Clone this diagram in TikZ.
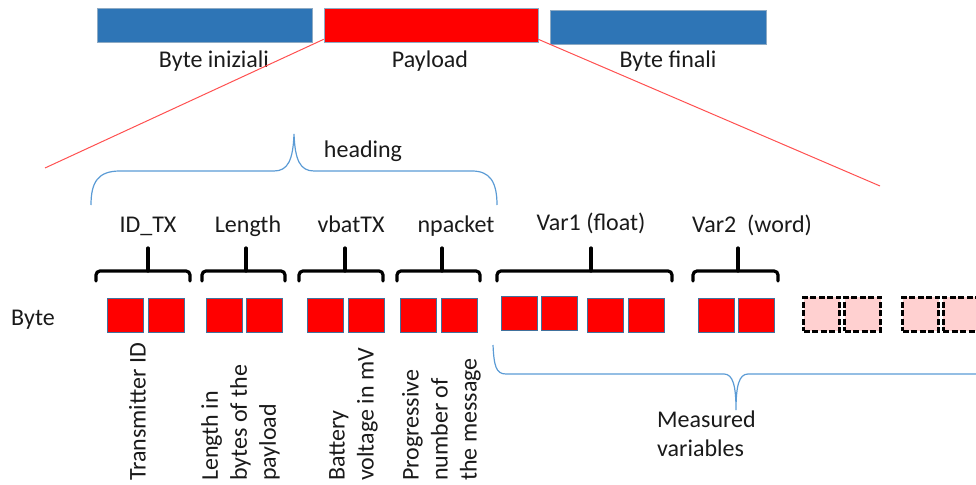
\documentclass[tikz,border=0pt]{standalone}
\usepackage{fontspec}
\setmainfont{Carlito}
\definecolor{barblue}{HTML}{2E75B6}
\definecolor{sqedge}{HTML}{41719C}
\definecolor{pinkfill}{HTML}{FFD0D0}
\definecolor{braceblue}{HTML}{5B9BD5}
\definecolor{zoomred}{HTML}{FF5050}
\definecolor{txt}{HTML}{1A1A1A}
\begin{document}
\begin{tikzpicture}[x=1pt,y=-1pt,
  every node/.style={font=\fontsize{24}{29}\selectfont, text=txt},
  bar/.style={rectangle, inner sep=0, minimum width=214, minimum height=34, draw=sqedge!60, line width=0.6},
  lbl/.style={anchor=base, inner sep=0},
  sq/.style={rectangle, inner sep=0, minimum width=36, minimum height=34, fill=red, draw=sqedge, line width=0.8},
  dsq/.style={rectangle, inner sep=0, minimum width=36, minimum height=34, fill=pinkfill, draw=black, line width=3, dash pattern=on 6pt off 2.5pt},
  rlbl/.style={rotate=90, anchor=north west, inner sep=0, align=left},
  zoomline/.style={draw=zoomred, line width=1},
  bluebrace/.style={draw=braceblue, line width=1.2},
  blackbrace/.style={draw=black, line width=3.2, rounded corners=4, line cap=round}]
\useasboundingbox (0,0) rectangle (976,484);

% top bars
\node[bar, fill=barblue, minimum width=215] (b1) at (204.5,25) {};
\node[bar, fill=red] (pl) at (431,25) {};
\node[bar, fill=barblue, minimum width=216] (b2) at (658,27) {};
\node[lbl] (t1) at (214,68) {Byte iniziali};
\node[lbl] (t2) at (430,68) {Payload};
\node[lbl] (t3) at (668,68) {Byte finali};

% zoom lines
\coordinate (zl) at (45,168);
\coordinate (zr) at (880,186);
\draw[zoomline] ([yshift=3]pl.south west) -- (zl);
\draw[zoomline] ([yshift=3]pl.south east) -- (zr);

% heading brace
\draw[bluebrace] (91,205) .. controls (91,182) and (98,171) .. (120,171) -- (274,171)
  .. controls (288,171) and (293,160) .. (294,134)
  .. controls (295,160) and (300,171) .. (314,171) -- (472,171)
  .. controls (490,171) and (497,182) .. (497,205);
\node[lbl] (hd) at (363,157) {heading};

% field labels
\node[lbl] (l1) at (148,232) {ID\_TX};
\node[lbl] (l2) at (248,232) {Length};
\node[lbl] (l3) at (351,232) {vbatTX};
\node[lbl] (l4) at (456,232) {npacket};
\node[lbl] (l5) at (591,230) {Var1 (float)};
\node[lbl] (l6) at (752,232) {Var2\ \ (word)};

% black braces
\draw[blackbrace] (96,281) -- (96,271) -- (190,271) -- (190,281);
\draw[blackbrace] (148,271) -- (148,248);
\draw[blackbrace] (202,281) -- (202,271) -- (285,271) -- (285,281);
\draw[blackbrace] (246,271) -- (246,248);
\draw[blackbrace] (299,281) -- (299,271) -- (383,271) -- (383,281);
\draw[blackbrace] (345,271) -- (345,248);
\draw[blackbrace] (397,281) -- (397,271) -- (480,271) -- (480,281);
\draw[blackbrace] (442,271) -- (442,248);
\draw[blackbrace] (497,281) -- (497,271) -- (672,271) -- (672,281);
\draw[blackbrace] (591,271) -- (591,248);
\draw[blackbrace] (693,281) -- (693,271) -- (778,271) -- (778,281);
\draw[blackbrace] (738,271) -- (738,248);

% byte row
\node[inner sep=0, anchor=base] (byte) at (33,325) {Byte};
\node[sq] (s1) at (125.5,315) {};
\node[sq] (s2) at (166.5,315) {};
\node[sq] (s3) at (224,315) {};
\node[sq] (s4) at (264.5,315) {};
\node[sq] (s5) at (325,315) {};
\node[sq] (s6) at (366,315) {};
\node[sq] (s7) at (418,315) {};
\node[sq] (s8) at (459,315) {};
\node[sq] (s9) at (519,313.5) {};
\node[sq] (s10) at (559.5,313.5) {};
\node[sq] (s11) at (605,315) {};
\node[sq] (s12) at (646,315) {};
\node[sq] (s13) at (716,315) {};
\node[sq] (s14) at (756.5,315) {};
\node[dsq] (d1) at (821.5,314) {};
\node[dsq] (d2) at (862.5,314) {};
\node[dsq] (d3) at (920.5,314) {};
\node[dsq] (d4) at (961,314) {};

% rotated descriptions
\node[rlbl] (r1) at (129,481) {Transmitter ID};
\node[rlbl] (r2) at (201,481) {Length in\\bytes of the\\payload};
\node[rlbl] (r3) at (329,481) {Battery\\voltage in mV};
\node[rlbl] (r4) at (402,481) {Progressive\\number of\\the message};

% measured brace
\draw[bluebrace] (493,345) .. controls (494,366) and (496,374) .. (506,374) -- (724,374)
  .. controls (733,374) and (736,386) .. (736,410)
  .. controls (736,386) and (739,374) .. (748,374) -- (980,374);
\node[anchor=north west, inner sep=0, align=left] (mv) at (657,411) {Measured\\variables};
\end{tikzpicture}
\end{document}
